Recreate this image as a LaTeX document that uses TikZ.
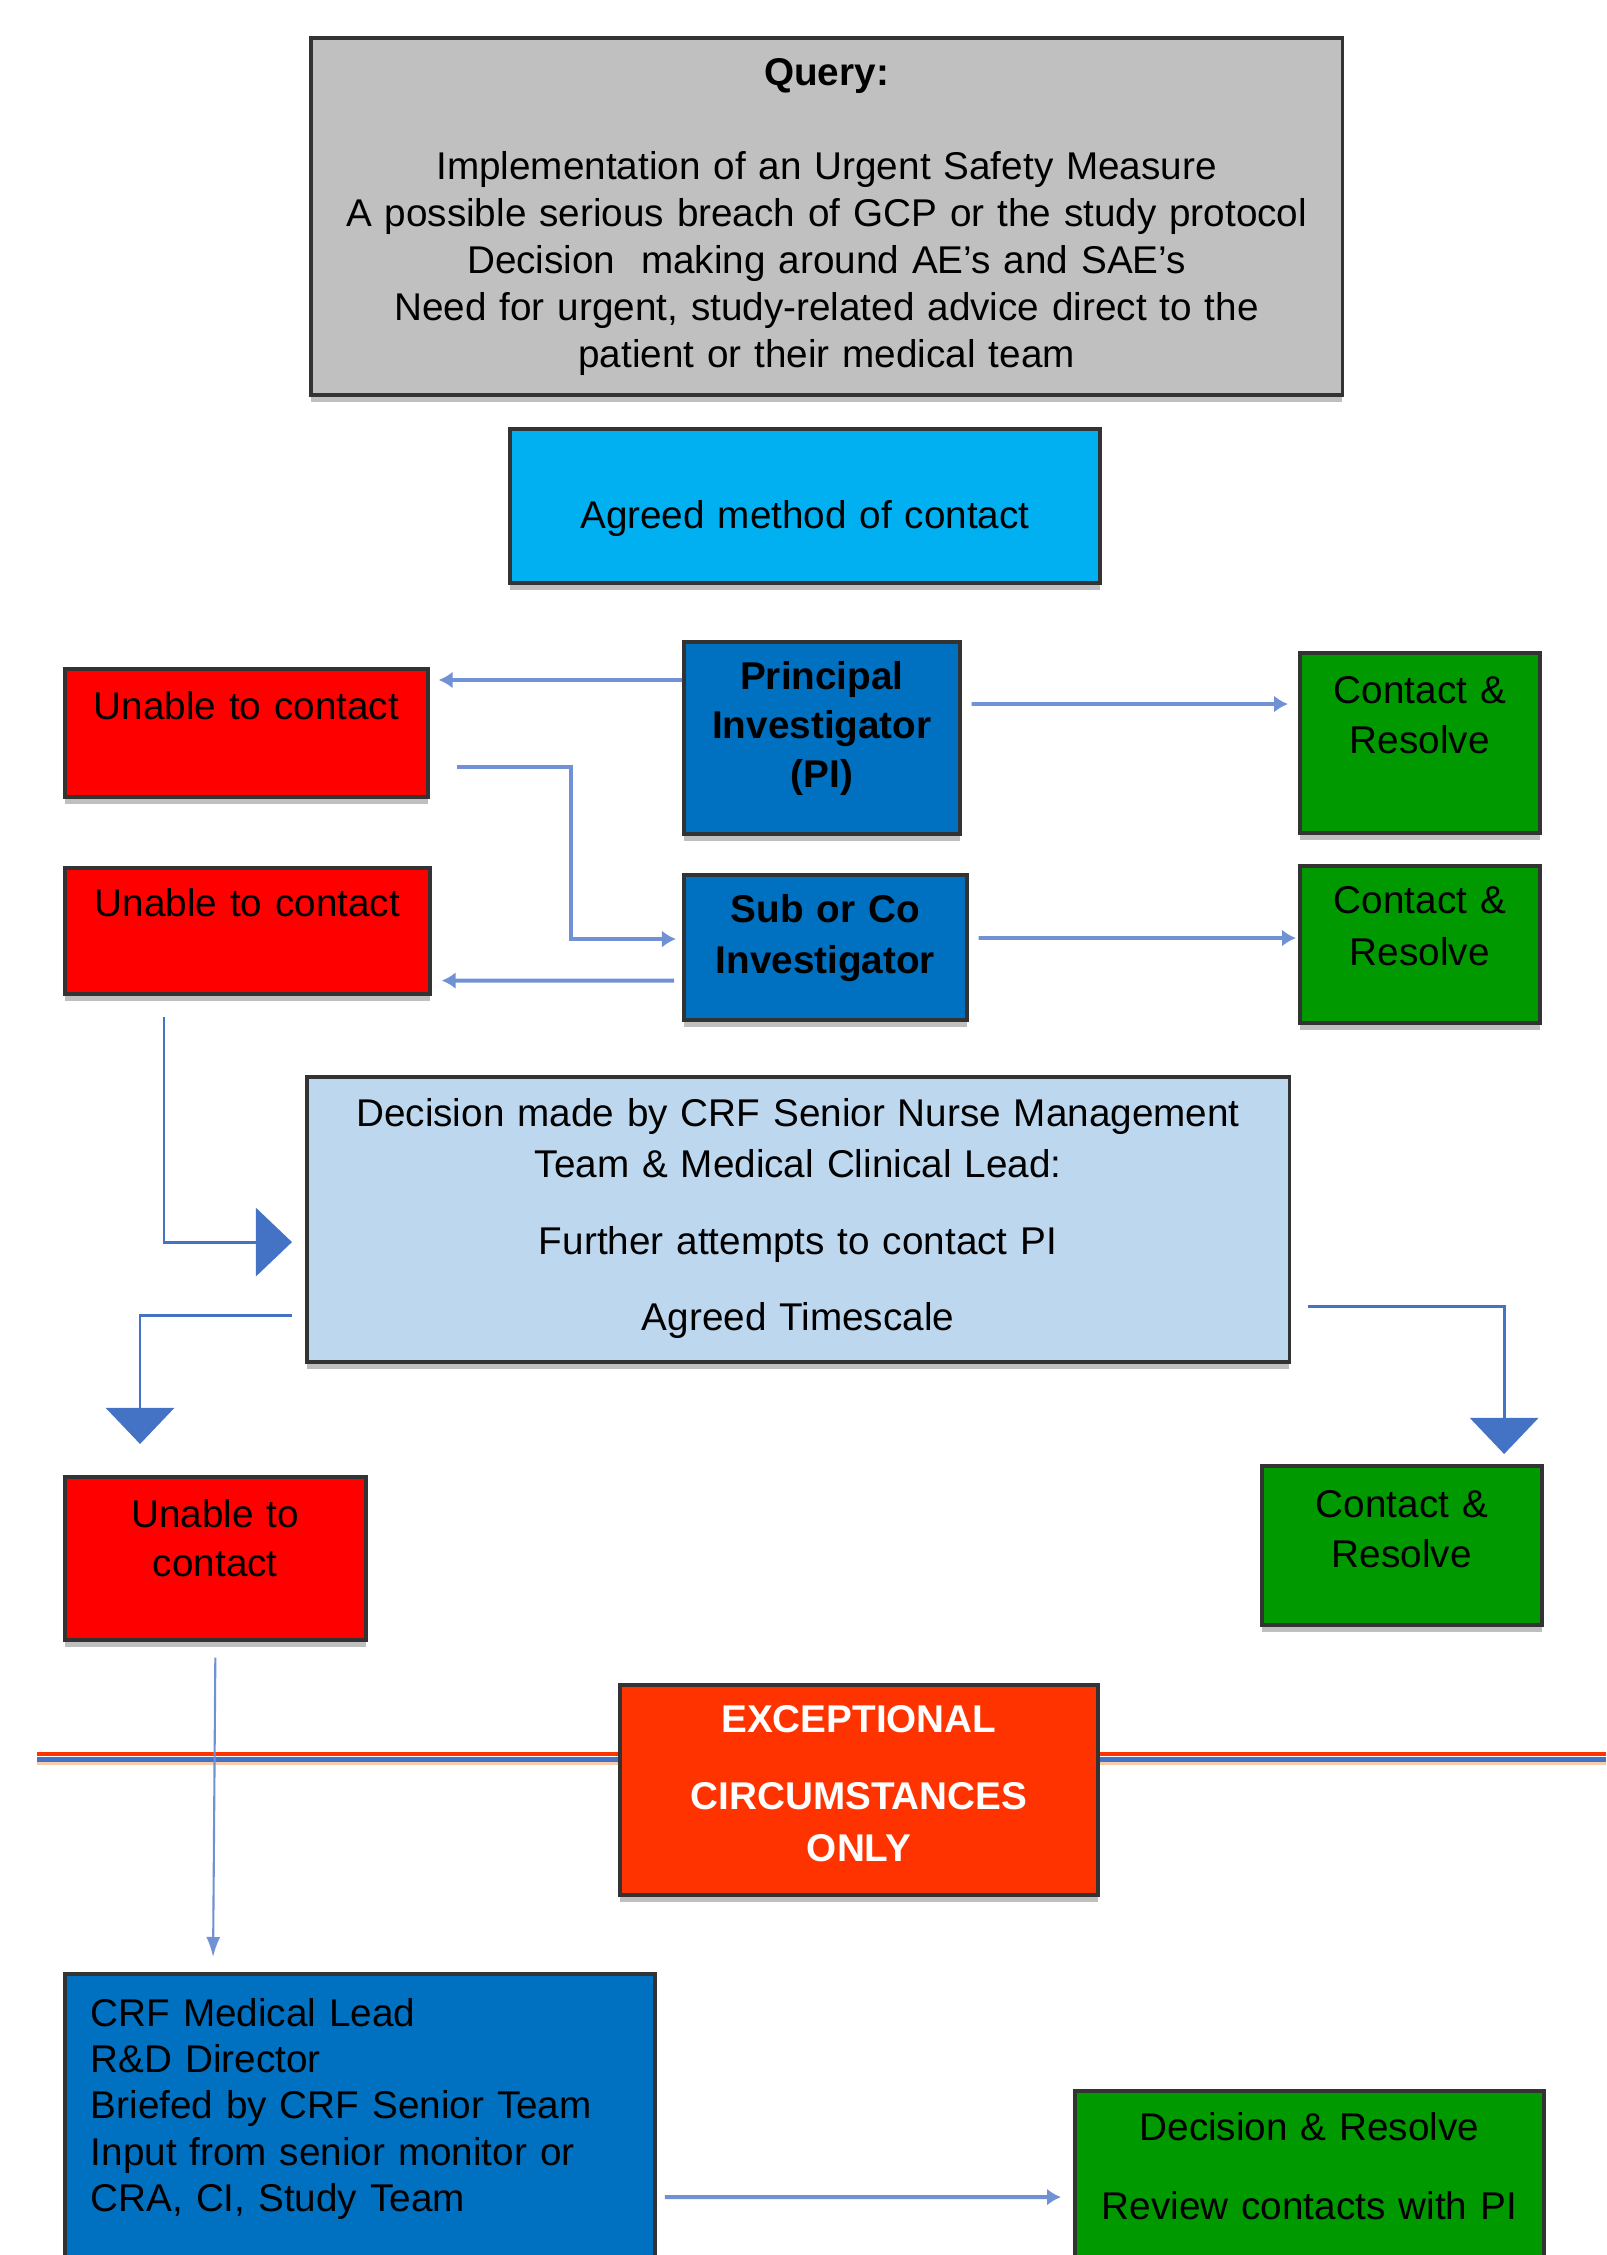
\documentclass[tikz,border=0pt]{standalone}
\usepackage{fontspec}
\setmainfont{Liberation Sans}
\usetikzlibrary{arrows.meta,shadows}

\definecolor{querygray}{HTML}{C0C0C0}
\definecolor{agreedcyan}{HTML}{00B0F0}
\definecolor{alertred}{HTML}{FF0000}
\definecolor{piblue}{HTML}{0070C0}
\definecolor{resolvegreen}{HTML}{009900}
\definecolor{decisionblue}{HTML}{BDD7EE}
\definecolor{exceptred}{HTML}{FF3300}
\definecolor{linkblue}{HTML}{4472C4}
\definecolor{thinblue}{RGB}{112,146,212}
\definecolor{peach}{HTML}{F8CBAD}

\begin{document}
\begin{tikzpicture}[x=0.01cm, y=-0.01cm,
  box/.style={draw=black!80, line width=1pt, anchor=north west, inner sep=0pt,
    align=center, font=\fontsize{11}{13.4}\selectfont,
    drop shadow={shadow xshift=0pt, shadow yshift=-2pt, fill=black!25, opacity=1}},
  query_box/.style={box, fill=querygray},
  agreed_box/.style={box, fill=agreedcyan},
  unable_box/.style={box, fill=alertred},
  lead_box/.style={box, fill=piblue},
  resolve_box/.style={box, fill=resolvegreen},
  decision_box/.style={box, fill=decisionblue},
  except_box/.style={box, fill=exceptred, text=white},
  thin_arrow/.style={draw=thinblue, line width=1.1pt, -{Latex[length=0.14cm, width=0.17cm]}},
  big_arrow/.style={draw=linkblue, line width=0.8pt, -{Triangle[length=0.36cm, width=0.68cm]}}]

\useasboundingbox (0,0) rectangle (1606,2255);
\clip (0,0) rectangle (1606,2255);

% Query
\node[query_box, text width=10.31cm, text height=0.48cm, text depth=3.09cm,
  font=\fontsize{11}{13.37}\selectfont] (query) at (309,36)
  {\textbf{Query:}\\[0.47cm]
   Implementation of an Urgent Safety Measure\\
   A possible serious breach of GCP or the study protocol\\
   Decision \ making around AE’s and SAE’s\\
   Need for urgent, study-related advice direct to the\\
   patient or their medical team};

\node[agreed_box, text width=5.90cm, text height=1.00cm, text depth=0.54cm] (agreed) at (508,427)
  {Agreed method of contact};

% First line of contact
\node[lead_box, text width=2.76cm, text height=0.48cm, text depth=1.44cm,
  font=\fontsize{11}{13.9}\selectfont\bfseries] (pi) at (682,640)
  {Principal\\ Investigator\\ (PI)};
\node[unable_box, text width=3.63cm, text height=0.51cm, text depth=0.77cm] (unable_pi) at (63,667)
  {Unable to contact};
\node[resolve_box, text width=2.40cm, text height=0.51cm, text depth=1.29cm,
  font=\fontsize{11}{14.2}\selectfont] (contact_pi) at (1298,651)
  {Contact \&\\ Resolve};

\draw[thin_arrow] ([yshift=-0.40cm]pi.north west) -- ([xshift=0.09cm, yshift=-0.13cm]unable_pi.north east);
\draw[thin_arrow] ([xshift=0.10cm, yshift=-0.64cm]pi.north east) -- ([xshift=-0.10cm, yshift=-0.53cm]contact_pi.north west);

% Second line of contact
\node[lead_box, text width=2.83cm, text height=0.48cm, text depth=0.97cm,
  font=\fontsize{11}{14.5}\selectfont\bfseries] (sub_co) at (682,873)
  {Sub or Co\\ Investigator};
\node[unable_box, text width=3.65cm, text height=0.49cm, text depth=0.77cm] (unable_sub) at (63,866)
  {Unable to contact};
\node[resolve_box, text width=2.40cm, text height=0.48cm, text depth=1.09cm,
  font=\fontsize{11}{14.8}\selectfont] (contact_sub) at (1298,864)
  {Contact \&\\ Resolve};

\draw[thin_arrow] ([xshift=0.27cm, yshift=0.32cm]unable_pi.south east) -- ++(1.14cm,0)
  |- ([xshift=-0.06cm, yshift=-0.66cm]sub_co.north west);
\draw[thin_arrow] ([xshift=-0.08cm, yshift=0.41cm]sub_co.south west) -- ([xshift=0.10cm, yshift=0.15cm]unable_sub.south east);
\draw[thin_arrow] ([xshift=0.10cm, yshift=-0.65cm]sub_co.north east) -- ([xshift=-0.02cm, yshift=-0.74cm]contact_sub.north west);

% Senior team decision
\node[decision_box, text width=9.82cm, text height=0.50cm, text depth=2.35cm,
  font=\fontsize{11}{14.5}\selectfont] (decision) at (305,1075)
  {Decision made by CRF Senior Nurse Management\\
   Team \& Medical Clinical Lead:\\[0.26cm]
   Further attempts to contact PI\\[0.25cm]
   Agreed Timescale};
\node[unable_box, text width=3.01cm, text height=0.51cm, text depth=1.12cm,
  font=\fontsize{11}{13.9}\selectfont] (unable_crf) at (63,1475)
  {Unable to\\ contact};
\node[resolve_box, text width=2.80cm, text height=0.52cm, text depth=1.07cm,
  font=\fontsize{11}{14.2}\selectfont] (contact_crf) at (1260,1464)
  {Contact \&\\ Resolve};

\draw[big_arrow] ([xshift=1.01cm, yshift=-0.21cm]unable_sub.south west) |- ([xshift=-0.13cm, yshift=-1.67cm]decision.north west);
\draw[big_arrow] ([xshift=-0.13cm, yshift=0.48cm]decision.south west) -| ([xshift=0.77cm, yshift=0.31cm]unable_crf.north west);
\draw[big_arrow] ([xshift=0.17cm, yshift=0.57cm]decision.south east) -| ([xshift=2.44cm, yshift=0.10cm]contact_crf.north west);

% Exceptional circumstances divider
\draw[line width=0.04cm, exceptred] (37,1754) -- (1606,1754);
\draw[line width=0.05cm, linkblue] (37,1759) -- (1606,1759);
\draw[line width=0.03cm, peach] (37,1763) -- (1606,1763);

\node[except_box, text width=4.78cm, text height=0.48cm, text depth=1.62cm,
  font=\fontsize{11}{14.8}\selectfont\bfseries] (exceptional) at (618,1683)
  {EXCEPTIONAL\\[0.25cm] CIRCUMSTANCES\\ ONLY};

% Escalation
\node[lead_box, align=left, inner xsep=0.26cm, text width=5.38cm, text height=0.53cm, text depth=3.00cm,
  font=\fontsize{11}{13.1}\selectfont] (crf_lead) at (63,1972)
  {CRF Medical Lead\\
   R\&D Director\\
   Briefed by CRF Senior Team\\
   Input from senior monitor or\\
   CRA, CI, Study Team};
\node[resolve_box, text width=4.69cm, text height=0.50cm, text depth=2.00cm,
  font=\fontsize{11}{13.4}\selectfont] (decide_resolve) at (1073,2089)
  {Decision \& Resolve\\[0.32cm] Review contacts with PI};

\draw[line width=0.6pt, thinblue, -{Latex[length=0.2cm, width=0.14cm]}] ([yshift=-0.16cm]unable_crf.south) -- ([xshift=1.50cm, yshift=0.15cm]crf_lead.north west);
\draw[thin_arrow] ([xshift=0.08cm, yshift=-2.25cm]crf_lead.north east) -- ([xshift=-0.12cm, yshift=-1.08cm]decide_resolve.north west);

\end{tikzpicture}
\end{document}
